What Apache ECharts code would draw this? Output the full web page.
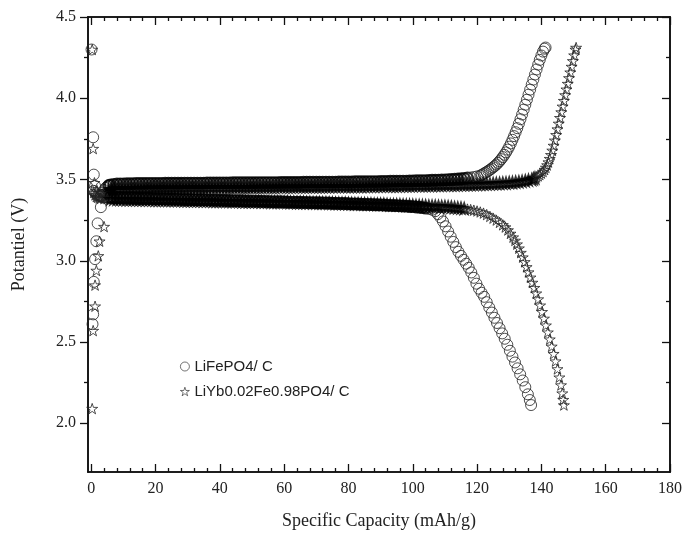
<!DOCTYPE html>
<html>
<head>
<meta charset="utf-8">
<script src="https://cdn.jsdelivr.net/npm/echarts@6/dist/echarts.min.js"></script>
<style>
  html, body { margin: 0; padding: 0; background: #fff; }
  #main { width: 685px; height: 535px; }
</style>
</head>
<body>
<div id="main"></div>
<script>
// series names (legend)
var seriesNames = ['LiFePO4/ C', 'LiYb0.02Fe0.98PO4/ C'];

// tick positions
var xMajor = [0, 20, 40, 60, 80, 100, 120, 140, 160, 180];
var xMinor = [4, 8, 12, 16, 24, 28, 32, 36, 44, 48, 52, 56, 64, 68, 72, 76, 84, 88, 92, 96,
  104, 108, 112, 116, 124, 128, 132, 136, 144, 148, 152, 156, 164, 168, 172, 176];
var yMajor = [2.0, 2.5, 3.0, 3.5, 4.0, 4.5];
var yMinor = [2.25, 2.75, 3.25, 3.75, 4.25];

// LiFePO4/C  [capacity mAh/g, potential V]
var lfpStart = [[0.1, 4.30], [0.6, 3.76], [0.8, 3.53], [1.2, 3.46], [3.0, 3.33], [2.0, 3.23],
  [1.6, 3.12], [1.2, 3.01], [0.8, 2.87], [0.6, 2.67], [0.4, 2.61]];

var lfpCharge = [[3, 3.40], [3.5, 3.42], [4, 3.435], [4.5, 3.448], [5, 3.457], [5.5, 3.463], [6, 3.467],
  [7, 3.470], [8, 3.472], [9, 3.473], [10, 3.473], [11, 3.474], [12, 3.474], [13, 3.474], [14, 3.475], [15, 3.475], [16, 3.475],
  [17, 3.475], [18, 3.476], [19, 3.476], [20, 3.476], [21, 3.476], [22, 3.476], [23, 3.477], [24, 3.477], [25, 3.477], [26, 3.477],
  [27, 3.477], [28, 3.477], [29, 3.478], [30, 3.478], [31, 3.478], [32, 3.478], [33, 3.478], [34, 3.478], [35, 3.478], [36, 3.479],
  [37, 3.479], [38, 3.479], [39, 3.479], [40, 3.479], [41, 3.479], [42, 3.479], [43, 3.479], [44, 3.480], [45, 3.480], [46, 3.480],
  [47, 3.480], [48, 3.480], [49, 3.480], [50, 3.480], [51, 3.480], [52, 3.481], [53, 3.481], [54, 3.481], [55, 3.481], [56, 3.481],
  [57, 3.481], [58, 3.481], [59, 3.482], [60, 3.482], [61, 3.482], [62, 3.482], [63, 3.482], [64, 3.482], [65, 3.482], [66, 3.483],
  [67, 3.483], [68, 3.483], [69, 3.483], [70, 3.483], [71, 3.483], [72, 3.484], [73, 3.484], [74, 3.484], [75, 3.484], [76, 3.484],
  [77, 3.485], [78, 3.485], [79, 3.485], [80, 3.485], [81, 3.485], [82, 3.486], [83, 3.486], [84, 3.486], [85, 3.486], [86, 3.487],
  [87, 3.487], [88, 3.487], [89, 3.487], [90, 3.488], [91, 3.488], [92, 3.488], [93, 3.489], [94, 3.489], [95, 3.489], [96, 3.490],
  [97, 3.490], [98, 3.490], [99, 3.491], [100, 3.491], [101, 3.492], [102, 3.492], [103, 3.493], [104, 3.493], [105, 3.494], [106, 3.495],
  [107, 3.495], [108, 3.496], [109, 3.497], [110, 3.498], [111, 3.499], [112, 3.500], [113, 3.502], [114, 3.503], [115, 3.505], [116, 3.507],
  [117, 3.509], [118, 3.512], [119, 3.515], [120, 3.519], [121, 3.524], [121.5, 3.529], [122, 3.535],
  [122.5, 3.541], [123, 3.547], [123.5, 3.553], [124, 3.560], [124.5, 3.567], [125, 3.575], [125.5, 3.583], [126, 3.592],
  [126.5, 3.602], [127, 3.613], [127.5, 3.625], [128, 3.638], [128.5, 3.652], [129, 3.667], [129.5, 3.684], [130, 3.702],
  [130.5, 3.722], [131, 3.744], [131.5, 3.767], [132, 3.791], [132.5, 3.816], [133, 3.843], [133.5, 3.871], [134, 3.900],
  [134.5, 3.930], [135, 3.960], [135.5, 3.991], [136, 4.022], [136.5, 4.053], [137, 4.084], [137.5, 4.115], [138, 4.146],
  [138.5, 4.177], [139, 4.207], [139.5, 4.236], [140, 4.263], [140.5, 4.287], [141, 4.305], [141.3, 4.312]];

var lfpDischarge = [[0.8, 3.43], [1.2, 3.418], [1.6, 3.408], [2, 3.402], [2.5, 3.398], [3, 3.396], [4, 3.393], [5, 3.391], [6, 3.390],
  [7, 3.389], [8, 3.388], [9, 3.388], [10, 3.387], [11, 3.387], [12, 3.386], [13, 3.386], [14, 3.385], [15, 3.385], [16, 3.384],
  [17, 3.384], [18, 3.383], [19, 3.383], [20, 3.382], [21, 3.382], [22, 3.381], [23, 3.381], [24, 3.380], [25, 3.380], [26, 3.379],
  [27, 3.379], [28, 3.378], [29, 3.378], [30, 3.377], [31, 3.377], [32, 3.376], [33, 3.376], [34, 3.375], [35, 3.375], [36, 3.374],
  [37, 3.374], [38, 3.373], [39, 3.373], [40, 3.372], [41, 3.372], [42, 3.371], [43, 3.371], [44, 3.370], [45, 3.370], [46, 3.369],
  [47, 3.369], [48, 3.368], [49, 3.368], [50, 3.367], [51, 3.367], [52, 3.366], [53, 3.366], [54, 3.365], [55, 3.365], [56, 3.364],
  [57, 3.364], [58, 3.363], [59, 3.363], [60, 3.362], [61, 3.362], [62, 3.361], [63, 3.361], [64, 3.360], [65, 3.360], [66, 3.359],
  [67, 3.359], [68, 3.358], [69, 3.358], [70, 3.357], [71, 3.357], [72, 3.356], [73, 3.355], [74, 3.355], [75, 3.354], [76, 3.354],
  [77, 3.353], [78, 3.352], [79, 3.352], [80, 3.351], [81, 3.350], [82, 3.350], [83, 3.349], [84, 3.348], [85, 3.348], [86, 3.347],
  [87, 3.346], [88, 3.345], [89, 3.345], [90, 3.344], [91, 3.343], [92, 3.342], [93, 3.341], [94, 3.340], [95, 3.339], [96, 3.338],
  [97, 3.337], [98, 3.336], [99, 3.334], [100, 3.333], [101, 3.331], [102, 3.329], [103, 3.327], [104, 3.324], [105, 3.320], [106, 3.314],
  [107.0, 3.305], [107.8, 3.287], [108.6, 3.267], [109.4, 3.242], [110.2, 3.212], [111.0, 3.180], [111.8, 3.148], [112.6, 3.116],
  [113.4, 3.084], [114.2, 3.055], [115.0, 3.030], [115.8, 3.006], [116.6, 2.982], [117.4, 2.957], [118.2, 2.928], [119.0, 2.895],
  [119.8, 2.859], [120.6, 2.828], [121.4, 2.803], [122.2, 2.778], [123.0, 2.745], [123.8, 2.712], [124.6, 2.681], [125.4, 2.649],
  [126.2, 2.617], [127.0, 2.585], [127.8, 2.553], [128.6, 2.520], [129.4, 2.483], [130.2, 2.446], [131.0, 2.410], [131.8, 2.374],
  [132.6, 2.338], [133.4, 2.301], [134.2, 2.263], [135.0, 2.222], [135.8, 2.178], [136.4, 2.143], [136.8, 2.112]];

// LiYb0.02Fe0.98PO4/C
var ybStart = [[0.3, 4.30], [0.6, 3.69], [1.0, 3.48], [1.6, 3.43], [4.0, 3.21], [2.6, 3.12], [2.2, 3.03],
  [1.6, 2.94], [1.2, 2.85], [1.2, 2.72], [0.6, 2.57], [0.3, 2.09]];

var ybCharge = [[4, 3.39], [4.5, 3.405], [5, 3.418], [5.5, 3.428], [6, 3.435], [6.5, 3.440],
  [7, 3.442], [8, 3.444], [9, 3.445], [10, 3.446], [11, 3.446], [12, 3.447], [13, 3.447], [14, 3.447], [15, 3.448], [16, 3.448],
  [17, 3.448], [18, 3.448], [19, 3.449], [20, 3.449], [21, 3.449], [22, 3.449], [23, 3.449], [24, 3.450], [25, 3.450], [26, 3.450],
  [27, 3.450], [28, 3.450], [29, 3.450], [30, 3.451], [31, 3.451], [32, 3.451], [33, 3.451], [34, 3.451], [35, 3.451], [36, 3.451],
  [37, 3.452], [38, 3.452], [39, 3.452], [40, 3.452], [41, 3.452], [42, 3.452], [43, 3.452], [44, 3.453], [45, 3.453], [46, 3.453],
  [47, 3.453], [48, 3.453], [49, 3.453], [50, 3.453], [51, 3.454], [52, 3.454], [53, 3.454], [54, 3.454], [55, 3.454], [56, 3.454],
  [57, 3.454], [58, 3.455], [59, 3.455], [60, 3.455], [61, 3.455], [62, 3.455], [63, 3.455], [64, 3.456], [65, 3.456], [66, 3.456],
  [67, 3.456], [68, 3.456], [69, 3.456], [70, 3.457], [71, 3.457], [72, 3.457], [73, 3.457], [74, 3.457], [75, 3.458], [76, 3.458],
  [77, 3.458], [78, 3.458], [79, 3.458], [80, 3.459], [81, 3.459], [82, 3.459], [83, 3.459], [84, 3.459], [85, 3.460], [86, 3.460],
  [87, 3.460], [88, 3.460], [89, 3.461], [90, 3.461], [91, 3.461], [92, 3.461], [93, 3.462], [94, 3.462], [95, 3.462], [96, 3.462],
  [97, 3.463], [98, 3.463], [99, 3.463], [100, 3.463], [101, 3.464], [102, 3.464], [103, 3.464], [104, 3.465], [105, 3.465], [106, 3.465],
  [107, 3.466], [108, 3.466], [109, 3.466], [110, 3.467], [111, 3.467], [112, 3.468], [113, 3.468], [114, 3.468], [115, 3.469], [116, 3.469],
  [117, 3.470], [118, 3.470], [119, 3.471], [120, 3.471], [121, 3.472], [122, 3.473], [123, 3.473], [124, 3.474], [125, 3.475], [126, 3.476],
  [127, 3.477], [128, 3.478], [129, 3.479], [130, 3.481], [131, 3.482], [132, 3.484], [133, 3.486], [134, 3.489], [135, 3.492], [136, 3.496],
  [137, 3.500], [137.5, 3.504], [138, 3.509], [138.5, 3.515], [139, 3.522], [139.5, 3.530], [140, 3.539], [140.5, 3.549],
  [141, 3.561], [141.4, 3.574], [141.8, 3.589], [142.2, 3.607], [142.6, 3.628], [143.0, 3.652], [143.4, 3.679], [143.8, 3.709],
  [144.2, 3.741], [144.6, 3.775], [145.0, 3.810], [145.4, 3.845], [145.8, 3.880], [146.2, 3.915], [146.6, 3.950], [147.0, 3.985],
  [147.4, 4.020], [147.8, 4.055], [148.2, 4.090], [148.6, 4.125], [149.0, 4.160], [149.4, 4.195], [149.8, 4.230], [150.2, 4.265],
  [150.6, 4.300], [150.8, 4.312]];

var ybDischarge = [[0.8, 3.42], [1.2, 3.405], [1.6, 3.395], [2, 3.390], [2.5, 3.386], [3, 3.384], [4, 3.382], [5, 3.381], [6, 3.380],
  [7, 3.379], [8, 3.379], [9, 3.378], [10, 3.378], [11, 3.377], [12, 3.377], [13, 3.377], [14, 3.376], [15, 3.376], [16, 3.376],
  [17, 3.375], [18, 3.375], [19, 3.375], [20, 3.374], [21, 3.374], [22, 3.374], [23, 3.373], [24, 3.373], [25, 3.373], [26, 3.372],
  [27, 3.372], [28, 3.372], [29, 3.371], [30, 3.371], [31, 3.371], [32, 3.370], [33, 3.370], [34, 3.370], [35, 3.369], [36, 3.369],
  [37, 3.369], [38, 3.368], [39, 3.368], [40, 3.368], [41, 3.367], [42, 3.367], [43, 3.367], [44, 3.366], [45, 3.366], [46, 3.366],
  [47, 3.365], [48, 3.365], [49, 3.365], [50, 3.364], [51, 3.364], [52, 3.364], [53, 3.363], [54, 3.363], [55, 3.363], [56, 3.362],
  [57, 3.362], [58, 3.362], [59, 3.361], [60, 3.361], [61, 3.361], [62, 3.360], [63, 3.360], [64, 3.359], [65, 3.359], [66, 3.359],
  [67, 3.358], [68, 3.358], [69, 3.357], [70, 3.357], [71, 3.357], [72, 3.356], [73, 3.356], [74, 3.355], [75, 3.355], [76, 3.354],
  [77, 3.354], [78, 3.353], [79, 3.353], [80, 3.352], [81, 3.352], [82, 3.351], [83, 3.351], [84, 3.350], [85, 3.350], [86, 3.349],
  [87, 3.349], [88, 3.348], [89, 3.348], [90, 3.347], [91, 3.347], [92, 3.346], [93, 3.345], [94, 3.345], [95, 3.344], [96, 3.344],
  [97, 3.343], [98, 3.342], [99, 3.342], [100, 3.341], [101, 3.340], [102, 3.340], [103, 3.339], [104, 3.338], [105, 3.337], [106, 3.337],
  [107, 3.336], [108, 3.335], [109, 3.334], [110, 3.333], [111, 3.332], [112, 3.330], [113, 3.328], [114, 3.326], [115, 3.324], [116, 3.321],
  [117, 3.318], [118, 3.315], [119, 3.311], [120, 3.306], [121, 3.300], [122, 3.293], [123, 3.284], [124, 3.273], [125, 3.262], [126, 3.250],
  [127, 3.236], [128, 3.221], [128.8, 3.207], [129.6, 3.189], [130.4, 3.168], [131.2, 3.145], [131.8, 3.125], [132.4, 3.102],
  [133.0, 3.077], [133.6, 3.050], [134.2, 3.022], [134.8, 2.993], [135.4, 2.962], [136.0, 2.930], [136.6, 2.898], [137.2, 2.866],
  [137.8, 2.834], [138.4, 2.800], [139.0, 2.764], [139.6, 2.726], [140.2, 2.686], [140.8, 2.645], [141.4, 2.603], [142.0, 2.560],
  [142.6, 2.517], [143.2, 2.473], [143.8, 2.428], [144.4, 2.382], [145.0, 2.334], [145.6, 2.283], [146.1, 2.235], [146.5, 2.185],
  [146.8, 2.145], [147.0, 2.112]];

var starPath = 'path://M50,0 L61.2,34.5 L97.6,34.5 L68.2,55.9 L79.4,90.5 L50,69.1 L20.6,90.5 L31.8,55.9 L2.4,34.5 L38.8,34.5 Z';

var serif = 'Liberation Serif';
var axisColor = '#111';

function xAxisOf(pos, ticks, len, withLabel, name) {
  return {
    type: 'value', position: pos, min: -1, max: 180,
    name: name || '', nameLocation: 'middle', nameGap: 40,
    nameTextStyle: { fontFamily: serif, fontSize: 18, color: '#222' },
    axisLine: { show: true, onZero: false, lineStyle: { color: axisColor, width: 1.6 } },
    axisTick: { show: true, inside: true, length: len, customValues: ticks, lineStyle: { color: axisColor, width: 1.3 } },
    axisLabel: {
      show: withLabel, customValues: xMajor, margin: 9,
      fontFamily: serif, fontSize: 16, color: '#222'
    },
    splitLine: { show: false }
  };
}

function yAxisOf(pos, ticks, len, inside, withLabel, name) {
  return {
    type: 'value', position: pos, min: 1.7, max: 4.5,
    name: name || '', nameLocation: 'middle', nameGap: 60,
    nameTextStyle: { fontFamily: serif, fontSize: 18, color: '#222' },
    axisLine: { show: true, onZero: false, lineStyle: { color: axisColor, width: 1.6 } },
    axisTick: { show: true, inside: inside, length: len, customValues: ticks, lineStyle: { color: axisColor, width: 1.3 } },
    axisLabel: {
      show: withLabel, customValues: yMajor, margin: 12,
      fontFamily: serif, fontSize: 16, color: '#222',
      formatter: function (v) { return v.toFixed(1); }
    },
    splitLine: { show: false }
  };
}

var markerStyle = { color: 'rgba(255,255,255,0)', borderColor: '#222', borderWidth: 1 };

// densely overlapping plateau markers print darker in the original figure
function styled(points) {
  return points.map(function (p) {
    var inBand = p[0] > 5 && p[1] > 3.32 && p[1] < 3.51;
    return inBand ? { value: p, itemStyle: { borderWidth: 1.9, borderColor: '#000' } } : p;
  });
}

var chart = echarts.init(document.getElementById('main'), null, { renderer: 'canvas' });
chart.setOption({
  animation: false,
  backgroundColor: '#fff',
  grid: { left: 88, right: 15, top: 17, bottom: 60 },
  legend: {
    orient: 'vertical', left: 175, top: 354,
    itemWidth: 9, itemHeight: 9, itemGap: 10,
    textStyle: { fontFamily: 'Liberation Sans', fontSize: 15, color: '#222' },
    data: [
      { name: seriesNames[0], icon: 'circle', itemStyle: { color: '#fff', borderColor: '#222', borderWidth: 0.8 } },
      { name: seriesNames[1], icon: starPath, itemStyle: { color: '#fff', borderColor: '#222', borderWidth: 0.8 } }
    ]
  },
  xAxis: [
    xAxisOf('bottom', xMajor, 8, true, 'Specific Capacity (mAh/g)'),
    xAxisOf('bottom', xMinor, 4, false),
    xAxisOf('top', xMajor, 8, false),
    xAxisOf('top', xMinor, 4, false)
  ],
  yAxis: [
    yAxisOf('left', yMajor, 8, false, true, 'Potantiel (V)'),
    yAxisOf('left', yMinor, 4, false, false),
    yAxisOf('right', yMajor, 8, true, false),
    yAxisOf('right', yMinor, 4, true, false)
  ],
  series: [
    {
      name: seriesNames[0], type: 'scatter', symbol: 'circle', symbolSize: 11,
      itemStyle: markerStyle, emphasis: { disabled: true }, silent: true,
      data: styled(lfpStart.concat(lfpCharge, lfpDischarge))
    },
    {
      name: seriesNames[1], type: 'scatter', symbol: starPath, symbolSize: 11, symbolKeepAspect: true,
      itemStyle: markerStyle, emphasis: { disabled: true }, silent: true,
      data: styled(ybStart.concat(ybCharge, ybDischarge))
    }
  ]
});
</script>
</body>
</html>
